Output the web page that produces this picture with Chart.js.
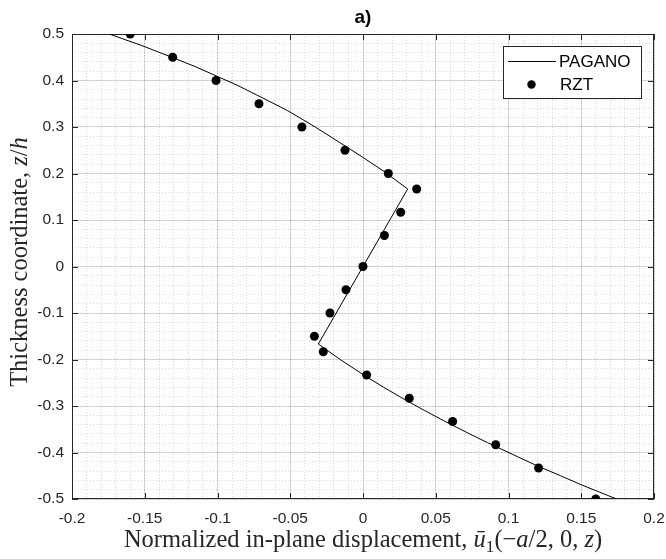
<!DOCTYPE html>
<html>
<head>
<meta charset="utf-8">
<script src="https://cdn.jsdelivr.net/npm/chart.js@4.4.0/dist/chart.umd.min.js"></script>
<style>
  html, body { margin: 0; padding: 0; background: #fff; }
</style>
</head>
<body>
<canvas id="grafico" width="666" height="559"></canvas>
<script>
// PAGANO - solução exata: ramo superior, trecho central reto, ramo inferior
const paganoDesloc = [
    -0.1744, -0.1519, -0.1314, -0.1154, -0.1010, -0.0866, -0.0731, -0.0517, -0.0328, -0.0144, -0.0002, 0.0145, 0.0307,
    -0.0307, -0.0157, 0.0005, 0.0143, 0.0284, 0.0425, 0.0559, 0.0733, 0.0856, 0.1069, 0.1210, 0.1358, 0.1500, 0.1624, 0.1743
];
const paganoEspessura = [
    0.5, 0.475, 0.45, 0.43, 0.41, 0.39, 0.369, 0.335, 0.30, 0.2634, 0.235, 0.2043, 0.1667,
    -0.1667, -0.2, -0.2333, -0.26, -0.2856, -0.31, -0.3323, -0.36, -0.3788, -0.41, -0.4305, -0.45, -0.4694, -0.485, -0.5
];

// RZT
const rztDesloc    = [-0.160, -0.1308, -0.101, -0.0715, -0.042, -0.0124, 0.0174, 0.0369, 0.0259, 0.0147, 0.0, -0.0117, -0.0227, -0.0334, -0.0273, 0.0025, 0.0318, 0.0616, 0.0912, 0.1207, 0.160];
const rztEspessura = [0.5, 0.45, 0.4, 0.35, 0.3, 0.25, 0.2, 0.1667, 0.1167, 0.0667, 0.0, -0.05, -0.1, -0.15, -0.1833, -0.2333, -0.2833, -0.3333, -0.3833, -0.4333, -0.5];

const xTickLabels = ['-0.2', '-0.15', '-0.1', '-0.05', '0', '0.05', '0.1', '0.15', '0.2'];
const yTickLabels = ['-0.5', '-0.4', '-0.3', '-0.2', '-0.1', '0', '0.1', '0.2', '0.3', '0.4', '0.5'];

const tituloGrafico = 'a)';
const tituloX = [
    { t: 'Normalized in-plane displacement, ' },
    { t: 'ū', it: true },
    { t: '1', sub: true },
    { t: '(−' },
    { t: 'a', it: true },
    { t: '/2, 0, ' },
    { t: 'z', it: true },
    { t: ')' }
];
const tituloY = [
    { t: 'Thickness coordinate, ' },
    { t: 'z', it: true },
    { t: '/' },
    { t: 'h', it: true }
];

const corEixo = '#262626';
const fonteTicks = { family: '"Liberation Sans", Arial, sans-serif', size: 15.5 };
const fonteSerif = '"Liberation Serif", "Times New Roman", serif';

const toPontos = (xs, ys) => xs.map((x, i) => ({ x: x, y: ys[i] }));

function fonteParte(p, tam) {
    const t = p.sub ? tam * 0.7 : tam;
    return (p.it ? 'italic ' : '') + t + 'px ' + fonteSerif;
}

function desenharPartes(ctx, partes, tam) {
    let total = 0;
    partes.forEach(p => { ctx.font = fonteParte(p, tam); total += ctx.measureText(p.t).width; });
    let cx = -total / 2;
    partes.forEach(p => {
        ctx.font = fonteParte(p, tam);
        ctx.fillText(p.t, cx, p.sub ? tam * 0.22 : 0);
        cx += ctx.measureText(p.t).width;
    });
}

// Caixa, ticks internos, títulos dos eixos e legenda (estilo MATLAB)
const estiloMatlab = {
    id: 'estiloMatlab',
    beforeDatasetsDraw(chart) {
        const { ctx, chartArea: a, scales } = chart;
        ctx.save();
        ctx.strokeStyle = corEixo;
        ctx.lineWidth = 1;
        ctx.strokeRect(Math.round(a.left) + 0.5, Math.round(a.top) + 0.5, Math.round(a.right - a.left) - 1, Math.round(a.bottom - a.top) - 1);
        const tam = 6;
        ctx.beginPath();
        scales.x.ticks.forEach(t => {
            const px = Math.round(scales.x.getPixelForValue(t.value)) + 0.5;
            ctx.moveTo(px, a.bottom); ctx.lineTo(px, a.bottom - tam);
            ctx.moveTo(px, a.top); ctx.lineTo(px, a.top + tam);
        });
        scales.y.ticks.forEach(t => {
            const py = Math.round(scales.y.getPixelForValue(t.value)) + 0.5;
            ctx.moveTo(a.left, py); ctx.lineTo(a.left + tam, py);
            ctx.moveTo(a.right, py); ctx.lineTo(a.right - tam, py);
        });
        ctx.stroke();
        ctx.restore();
    },
    afterDraw(chart) {
        const { ctx, chartArea: a } = chart;
        ctx.save();
        ctx.fillStyle = corEixo;
        ctx.textBaseline = 'alphabetic';
        ctx.textAlign = 'left';

        // título do eixo x
        ctx.save();
        ctx.translate((a.left + a.right) / 2, 547);
        desenharPartes(ctx, tituloX, 24.5);
        ctx.restore();

        // título do eixo y
        ctx.save();
        ctx.translate(27, 262);
        ctx.rotate(-Math.PI / 2);
        desenharPartes(ctx, tituloY, 24.5);
        ctx.restore();

        // legenda
        const bx = 503.5, by = 46.5, bw = 138, bh = 52;
        ctx.fillStyle = '#fff';
        ctx.fillRect(bx, by, bw, bh);
        ctx.strokeStyle = corEixo;
        ctx.lineWidth = 1;
        ctx.strokeRect(bx, by, bw, bh);

        const ds = chart.data.datasets;
        ctx.font = '17px "Liberation Sans", Arial, sans-serif';
        ctx.textBaseline = 'middle';
        ctx.fillStyle = '#000';

        ctx.strokeStyle = ds[0].borderColor;
        ctx.beginPath();
        ctx.moveTo(508, 61.5); ctx.lineTo(556, 61.5);
        ctx.stroke();
        ctx.fillText(ds[0].label, 559, 62);

        ctx.fillStyle = ds[1].backgroundColor;
        ctx.beginPath();
        ctx.arc(531.5, 84.5, 4.2, 0, Math.PI * 2);
        ctx.fill();
        ctx.fillStyle = '#000';
        ctx.fillText(ds[1].label, 560, 85);

        ctx.restore();
    }
};

const gradeMaior = 'rgba(38,38,38,0.16)';
const gradeMenor = 'rgba(38,38,38,0.16)';

new Chart(document.getElementById('grafico'), {
    type: 'scatter',
    data: {
        datasets: [
            {
                label: 'PAGANO',
                data: toPontos(paganoDesloc, paganoEspessura),
                showLine: true,
                borderColor: '#000',
                borderWidth: 1,
                pointRadius: 0,
                tension: 0,
                xAxisID: 'x',
                yAxisID: 'y'
            },
            {
                label: 'RZT',
                data: toPontos(rztDesloc, rztEspessura),
                showLine: false,
                backgroundColor: '#000',
                borderColor: '#000',
                pointRadius: 4.5,
                pointBorderWidth: 0,
                xAxisID: 'x',
                yAxisID: 'y'
            }
        ]
    },
    options: {
        responsive: false,
        devicePixelRatio: 1,
        animation: false,
        layout: { padding: { left: 0, right: 12, top: 0, bottom: 0 } },
        plugins: {
            legend: { display: false },
            tooltip: { enabled: false },
            title: {
                display: true,
                text: tituloGrafico,
                fullSize: false,
                color: '#000',
                font: { family: '"Liberation Sans", Arial, sans-serif', size: 19, weight: 'bold', lineHeight: 1.2 },
                padding: { top: 6, bottom: 5.2 }
            }
        },
        scales: {
            xMenor: {
                type: 'linear', position: 'bottom', min: -0.2, max: 0.2,
                ticks: { display: false, stepSize: 0.01, maxTicksLimit: 100 },
                grid: { color: gradeMenor, lineWidth: 1, drawTicks: false },
                border: { display: false, dash: [1, 2] },
                afterFit: s => { s.height = 0; s.paddingLeft = 0; s.paddingRight = 0; }
            },
            yMenor: {
                type: 'linear', position: 'left', min: -0.5, max: 0.5,
                ticks: { display: false, stepSize: 0.02, maxTicksLimit: 100 },
                grid: { color: gradeMenor, lineWidth: 1, drawTicks: false },
                border: { display: false, dash: [1, 2] },
                afterFit: s => { s.width = 0; s.paddingTop = 0; s.paddingBottom = 0; }
            },
            x: {
                type: 'linear', position: 'bottom', min: -0.2, max: 0.2,
                ticks: {
                    stepSize: 0.05, autoSkip: false, maxRotation: 0, padding: 10,
                    color: corEixo, font: fonteTicks,
                    callback: (v, i) => xTickLabels[i]
                },
                grid: { color: gradeMaior, lineWidth: 1, drawTicks: false },
                border: { display: false },
                afterFit: s => { s.height = 60; s.paddingLeft = 0; s.paddingRight = 0; }
            },
            y: {
                type: 'linear', position: 'left', min: -0.5, max: 0.5,
                ticks: {
                    stepSize: 0.1, autoSkip: false, padding: 8,
                    color: corEixo, font: fonteTicks,
                    callback: (v, i) => yTickLabels[i]
                },
                grid: { color: gradeMaior, lineWidth: 1, drawTicks: false },
                border: { display: false },
                afterFit: s => { s.width = 72; s.paddingTop = 0; s.paddingBottom = 0; }
            }
        }
    },
    plugins: [estiloMatlab]
});
</script>
</body>
</html>
